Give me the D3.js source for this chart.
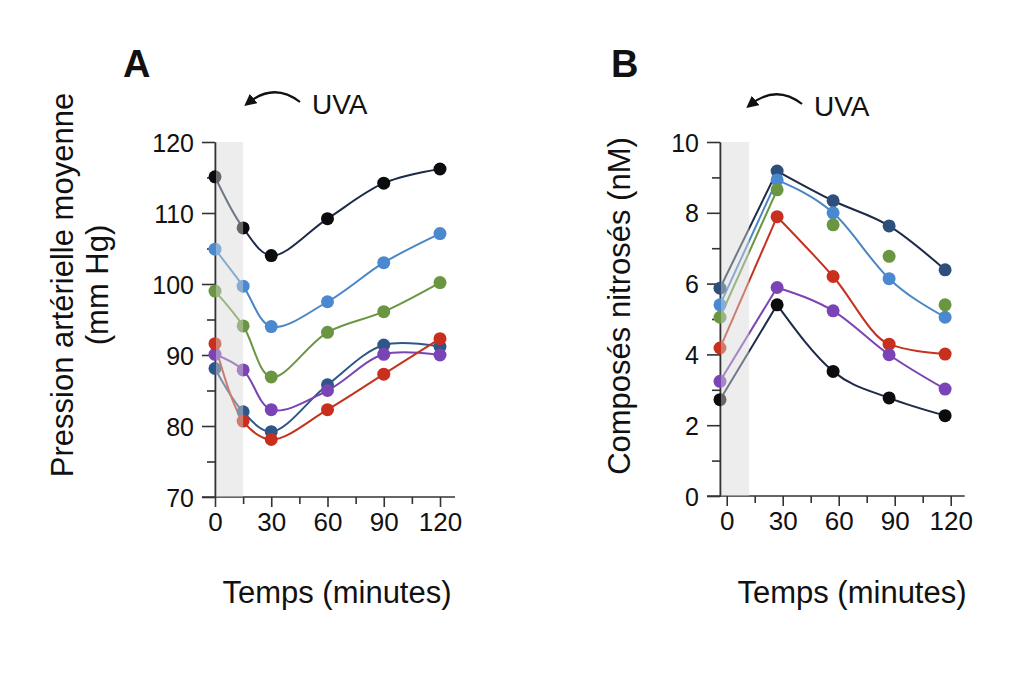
<!DOCTYPE html>
<meta charset="utf-8">
<head>
    <script src="https://d3js.org/d3.v7.min.js"></script>
    <style>
        body { margin: 0; background: white; }
        text { font-family: "Liberation Sans", Arial, sans-serif; fill: #111; }
    </style>
</head>
<body>
<div id="chart"></div>
<script>
    // ---- panel A : pression artérielle moyenne ----
    const timesA = [0, 15, 30, 60, 90, 120];
    const pressionNavy   = [115.1, 107.9, 104.0, 109.2, 114.2, 116.2];
    const pressionLight  = [104.9, 99.7, 94.0, 97.5, 103.0, 107.1];
    const pressionGreen  = [99.0, 94.1, 86.9, 93.2, 96.1, 100.2];
    const pressionBlue   = [88.1, 82.0, 79.2, 85.8, 91.4, 91.2];
    const pressionPurple = [90.1, 87.9, 82.3, 85.0, 90.1, 90.0];
    const pressionRed    = [91.6, 80.7, 78.1, 82.3, 87.3, 92.3];
    const yTicksA = [70, 80, 90, 100, 110, 120];
    const yMinorA = [75, 85, 95, 105, 115];

    // ---- panel B : composés nitrosés ----
    const timesB = [-3.6, 27, 57, 87, 117];
    const nitrosNavy   = [5.87, 9.18, 8.34, 7.63, 6.39];
    const nitrosLight  = [5.40, 8.93, 8.00, 6.14, 5.05];
    const nitrosGreen  = [5.05, 8.65, 7.66, 6.77, 5.40];
    const nitrosRed    = [4.18, 7.89, 6.20, 4.29, 4.01];
    const nitrosPurple = [3.24, 5.89, 5.23, 3.99, 3.02];
    const nitrosBlack  = [2.72, 5.40, 3.52, 2.77, 2.27];
    const yTicksB = [0, 2, 4, 6, 8, 10];
    const yMinorB = [1, 3, 5, 7, 9];

    const xTicks = [0, 30, 60, 90, 120];
    const xMinor = [15, 45, 75, 105];

    const svg = d3.select("#chart").append("svg")
        .attr("width", 1024)
        .attr("height", 677)
        .style("background-color", "white");

    svg.append("defs").append("marker")
        .attr("id", "head")
        .attr("viewBox", "0 0 10 10")
        .attr("refX", 6).attr("refY", 5)
        .attr("markerWidth", 5.5).attr("markerHeight", 5.5)
        .attr("orient", "auto-start-reverse")
        .append("path")
        .attr("d", "M0,0 L10,5 L0,10 Z")
        .attr("fill", "#111");

    function drawPanel(cfg) {
        const x = d3.scaleLinear().domain(cfg.xDomain).range(cfg.xRange);
        const y = d3.scaleLinear().domain(cfg.yDomain).range(cfg.yRange);
        const g = svg.append("g");
        const yBase = y(cfg.yDomain[0]);

        // axes
        g.append("g")
            .attr("transform", `translate(${x(cfg.xDomain[0])},0)`)
            .call(d3.axisLeft(y).tickValues(cfg.yMinor).tickSize(8).tickSizeOuter(0).tickFormat(""));
        const majorY = g.append("g")
            .attr("transform", `translate(${x(cfg.xDomain[0])},0)`)
            .call(d3.axisLeft(y).tickValues(cfg.yTicks).tickSize(13).tickSizeOuter(0).tickPadding(8));
        majorY.selectAll("text").style("font-size", "25px").attr("dy", "0.36em");

        const minorX = g.append("g")
            .attr("transform", `translate(0,${yBase})`)
            .call(d3.axisBottom(x).tickValues(xMinor).tickSize(7).tickFormat(""));
        const majorX = g.append("g")
            .attr("transform", `translate(0,${yBase})`)
            .call(d3.axisBottom(x).tickValues(xTicks).tickSize(10).tickPadding(6));
        majorX.selectAll("text").style("font-size", "26px");
        minorX.select(".domain").remove();
        majorX.select(".domain").remove();
        g.selectAll(".domain, .tick line").attr("stroke", "#333").attr("stroke-width", 1.6);

        g.append("line")
            .attr("x1", x(cfg.axisExtent[0])).attr("x2", x(cfg.axisExtent[1]))
            .attr("y1", yBase).attr("y2", yBase)
            .attr("stroke", "#333").attr("stroke-width", 1.6);

        // series
        cfg.series.forEach((vals, i) => {
            const pts = vals.map((v, j) => [x(cfg.times[j]), y(v)]);
            const col = cfg.lineColors[i];
            if (cfg.smooth) {
                g.append("path")
                    .attr("d", d3.line().curve(d3.curveCatmullRom.alpha(0.5))(pts))
                    .attr("fill", "none").attr("stroke", col).attr("stroke-width", 2);
            } else {
                g.append("path")
                    .attr("d", d3.line()(pts.slice(0, 2)))
                    .attr("fill", "none").attr("stroke", col).attr("stroke-width", 2);
                if (!cfg.firstOnly[i]) {
                    g.append("path")
                        .attr("d", d3.line().curve(d3.curveMonotoneX)(pts.slice(1)))
                        .attr("fill", "none").attr("stroke", col).attr("stroke-width", 2);
                }
            }
        });
        cfg.series.forEach((vals, i) => {
            g.selectAll(null)
                .data(vals)
                .enter()
                .append("circle")
                .attr("cx", (d, j) => x(cfg.times[j]))
                .attr("cy", d => y(d))
                .attr("r", 6.5)
                .attr("fill", cfg.pointColors[i]);
        });

        // UVA period, drawn over the marks
        g.append("rect")
            .attr("x", x(cfg.shade[0]) + 1)
            .attr("width", x(cfg.shade[1]) - x(cfg.shade[0]) - 1)
            .attr("y", y(cfg.yDomain[1]))
            .attr("height", yBase - y(cfg.yDomain[1]))
            .attr("fill", "#d6d6d6")
            .attr("opacity", 0.45);

        // labels
        svg.append("text")
            .attr("x", cfg.letterX).attr("y", 77)
            .style("font-size", "38px").style("font-weight", "bold")
            .text(cfg.letter);

        const ax = cfg.arrowX;
        svg.append("path")
            .attr("d", `M${ax + 52},${cfg.arrowY} Q${ax + 26},${cfg.arrowY - 20} ${ax},${cfg.arrowY + 1}`)
            .attr("fill", "none").attr("stroke", "#111").attr("stroke-width", 2.2)
            .attr("marker-end", "url(#head)");
        svg.append("text")
            .attr("x", ax + 64).attr("y", cfg.arrowY + 12)
            .style("font-size", "28px")
            .text("UVA");

        cfg.yTitle.forEach((t, k) => {
            svg.append("text")
                .attr("transform", `translate(${cfg.yTitleX[k]},${cfg.yTitleMid}) rotate(-90)`)
                .attr("text-anchor", "middle")
                .style("font-size", "31px")
                .text(t);
        });

        svg.append("text")
            .attr("x", cfg.xTitleX).attr("y", 603)
            .attr("text-anchor", "middle")
            .style("font-size", "31px")
            .text("Temps (minutes)");
    }

    drawPanel({
        letter: "A", letterX: 123,
        arrowX: 248, arrowY: 102,
        times: timesA,
        xDomain: [0, 120], xRange: [215, 440],
        yDomain: [70, 120], yRange: [497, 142],
        axisExtent: [-7, 128],
        shade: [0, 15],
        yTicks: yTicksA, yMinor: yMinorA,
        series: [pressionNavy, pressionLight, pressionGreen, pressionBlue, pressionPurple, pressionRed],
        lineColors: ["#1d2a48", "#4a86c6", "#6a9642", "#2f5688", "#7a45b2", "#c5321f"],
        pointColors: ["#0c0c0e", "#4a89cf", "#6a9642", "#2f5688", "#7b44b6", "#c8301d"],
        smooth: true,
        yTitle: ["Pression artérielle moyenne", "(mm Hg)"],
        yTitleX: [73, 108], yTitleMid: 285,
        xTitleX: 337
    });

    drawPanel({
        letter: "B", letterX: 611,
        arrowX: 750, arrowY: 104,
        times: timesB,
        xDomain: [-3.6, 120], xRange: [720, 950.7],
        yDomain: [0, 10], yRange: [496, 142],
        axisExtent: [-10.5, 127.5],
        shade: [-3.6, 12],
        yTicks: yTicksB, yMinor: yMinorB,
        series: [nitrosNavy, nitrosLight, nitrosGreen, nitrosRed, nitrosPurple, nitrosBlack],
        lineColors: ["#1d2a48", "#4a86c6", "#6a9642", "#c5321f", "#7a45b2", "#1d2a48"],
        pointColors: ["#2e4e7c", "#4a89cf", "#6a9642", "#c8301d", "#7b44b6", "#0c0c0e"],
        firstOnly: [false, false, true, false, false, false],
        smooth: false,
        yTitle: ["Composés nitrosés (nM)"],
        yTitleX: [630], yTitleMid: 306,
        xTitleX: 852
    });
</script>
</body>
